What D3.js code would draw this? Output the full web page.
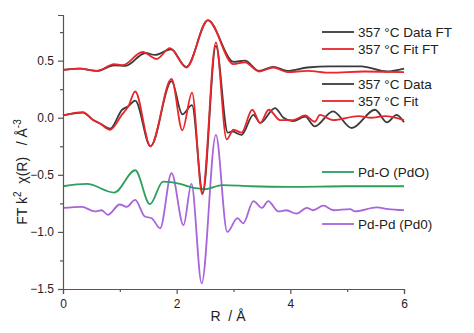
<!DOCTYPE html>
<html>
<head>
<meta charset="utf-8">
<script src="https://cdn.jsdelivr.net/npm/d3@7"></script>
<style>
  body { margin: 0; background: #fff; }
  text { font-family: "Liberation Sans", Arial, sans-serif; fill: #222; white-space: pre; }
</style>
</head>
<body>
<svg id="chart" width="474" height="333"></svg>
<script>
// digitised [R, value] pairs, mostly at the extrema
const dataFT = [[0,0.42],[0.3,0.43],[0.6,0.41],[0.9,0.46],[1.1,0.455],[1.45,0.567],[1.62,0.55],[1.9,0.60],[2.17,0.445],[2.55,0.853],[3.0,0.49],[3.2,0.50],[3.45,0.41],[3.7,0.445],[3.95,0.41],[4.3,0.44],[4.7,0.45],[5.25,0.45],[5.7,0.405],[6,0.43]]
const fitFT = [[0,0.42],[0.3,0.43],[0.6,0.41],[0.9,0.47],[1.05,0.46],[1.4,0.576],[1.65,0.515],[1.88,0.61],[2.17,0.44],[2.55,0.855],[3.0,0.47],[3.2,0.485],[3.45,0.405],[3.7,0.44],[3.95,0.40],[4.3,0.41],[4.7,0.395],[5.3,0.405],[6,0.40]]
const dataChi = [[0,0.02],[0.35,0.045],[0.53,-0.02],[0.65,-0.05],[0.83,-0.095],[1.04,0.07],[1.15,0.10],[1.27,0.15],[1.54,-0.25],[1.91,0.32],[2.1,0.03],[2.27,0.11],[2.46,-0.66],[2.69,0.63],[2.9,-0.13],[2.98,-0.12],[3.14,-0.15],[3.35,0.025],[3.47,-0.045],[3.73,0.085],[3.88,0.0],[4.05,-0.03],[4.26,0.01],[4.43,-0.075],[4.75,0.055],[5.08,-0.09],[5.49,0.07],[5.7,-0.04],[5.87,0.025],[6,-0.04]]
const fitChi = [[0,0.02],[0.35,0.05],[0.53,-0.02],[0.65,-0.05],[0.83,-0.105],[1.04,0.03],[1.15,0.10],[1.27,0.23],[1.54,-0.25],[1.91,0.34],[2.1,-0.11],[2.27,0.22],[2.45,-0.67],[2.69,0.66],[2.88,-0.19],[3.0,-0.105],[3.14,-0.13],[3.33,0.07],[3.47,-0.045],[3.62,0.07],[3.82,-0.02],[4.05,-0.02],[4.26,0.02],[4.43,-0.035],[4.52,0.025],[4.75,-0.02],[5.2,0.015],[5.42,0.0],[5.67,0.015],[6,-0.02]]
const pdO = [[0,-0.60],[0.42,-0.58],[0.9,-0.655],[1.27,-0.46],[1.53,-0.757],[1.76,-0.56],[2.06,-0.58],[2.3,-0.615],[2.5,-0.625],[2.8,-0.59],[3.3,-0.60],[4,-0.605],[5,-0.60],[6,-0.60]]
const pdPd = [[0,-0.79],[0.33,-0.78],[0.56,-0.82],[0.68,-0.81],[0.79,-0.85],[1.0,-0.76],[1.12,-0.78],[1.27,-0.72],[1.44,-0.865],[1.56,-0.88],[1.71,-0.968],[1.91,-0.485],[2.12,-0.94],[2.26,-0.58],[2.44,-1.45],[2.69,-0.15],[2.89,-1.0],[3.07,-0.88],[3.17,-0.925],[3.35,-0.73],[3.5,-0.79],[3.61,-0.73],[3.79,-0.82],[3.93,-0.81],[4.11,-0.84],[4.29,-0.79],[4.4,-0.81],[4.58,-0.77],[4.76,-0.81],[5.05,-0.80],[5.14,-0.82],[5.52,-0.785],[5.72,-0.80],[6,-0.81]]

const seriesNames = ["357 °C Data FT", "357 °C Fit FT", "357 °C Data", "357 °C Fit", "Pd-O (PdO)", "Pd-Pd (Pd0)"]
const seriesColors = ["#3a3a3a", "#e8262b", "#3a3a3a", "#e8262b", "#2b9f5c", "#a865db"]
const xTicks = [0, 2, 4, 6]
const yTicks = [-1.5, -1.0, -0.5, 0.0, 0.5]

const series = [dataFT, fitFT, dataChi, fitChi, pdO, pdPd]
// where each legend entry sits (y px)
const legendY = [32, 49, 84, 101, 172, 224]

const margin = {left: 63, right: 70, top: 15, bottom: 44}
const W = 474, H = 333

const svg = d3.select('#chart')

const x = d3.scaleLinear().domain([0, 6]).range([margin.left, W - margin.right])
const y = d3.scaleLinear().domain([-1.5, 0.9]).range([H - margin.bottom, margin.top])

const line = d3.line()
    .x(d => x(d[0]))
    .y(d => y(d[1]))
    .curve(d3.curveMonotoneX)

// draw curves back to front: reference curves first, fits on top of data
const order = [5, 4, 2, 3, 0, 1]
order.forEach(i => {
    svg.append('path')
        .attr('d', line(series[i]))
        .attr('fill', 'none')
        .attr('stroke', seriesColors[i])
        .attr('stroke-width', 1.8)
        .attr('stroke-linejoin', 'round')
})

// axes
svg.append('g')
    .attr('transform', `translate(0,${H - margin.bottom})`)
    .call(d3.axisBottom(x).tickValues(xTicks).tickFormat(d3.format('d')).tickSize(5).tickPadding(5))

svg.append('g')
    .attr('transform', `translate(0,${H - margin.bottom})`)
    .call(d3.axisBottom(x).tickValues([1, 3, 5]).tickFormat('').tickSize(3))
    .call(g => g.select('.domain').remove())

svg.append('g')
    .attr('transform', `translate(${margin.left},0)`)
    .call(d3.axisLeft(y).tickValues(yTicks).tickFormat(d3.format('.1f')).tickSize(5).tickPadding(4))

svg.append('g')
    .attr('transform', `translate(${margin.left},0)`)
    .call(d3.axisLeft(y).tickValues([-1.25, -0.75, -0.25, 0.25, 0.75]).tickFormat('').tickSize(3))
    .call(g => g.select('.domain').remove())

svg.selectAll('.domain, .tick line').attr('stroke', '#555').attr('stroke-width', 1.2)
svg.selectAll('.tick text')
    .style('font-size', '12px')
    .style('font-family', '"Liberation Sans", Arial, sans-serif')
    .attr('fill', '#222')

// axis titles
svg.append('text')
    .attr('x', 228).attr('y', 321)
    .attr('text-anchor', 'middle')
    .style('font-size', '14px')
    .text('R  / Å')

const yl = svg.append('text')
    .attr('transform', 'translate(27,172) rotate(-90)')
    .attr('text-anchor', 'middle')
    .style('font-size', '14px')
yl.append('tspan').text('FT k')
yl.append('tspan').attr('dy', -6).style('font-size', '10px').text('2')
yl.append('tspan').attr('dy', 6).text('  χ(R)   / Å')
yl.append('tspan').attr('dy', -6).style('font-size', '10px').text('-3')

// legend
const lg = svg.append('g')
seriesNames.forEach((name, i) => {
    lg.append('line')
        .attr('x1', 322).attr('x2', 354)
        .attr('y1', legendY[i]).attr('y2', legendY[i])
        .attr('stroke', seriesColors[i])
        .attr('stroke-width', 1.8)
    lg.append('text')
        .attr('x', 358).attr('y', legendY[i])
        .attr('dy', '0.35em')
        .style('font-size', '13.5px')
        .text(name)
})
</script>
</body>
</html>
